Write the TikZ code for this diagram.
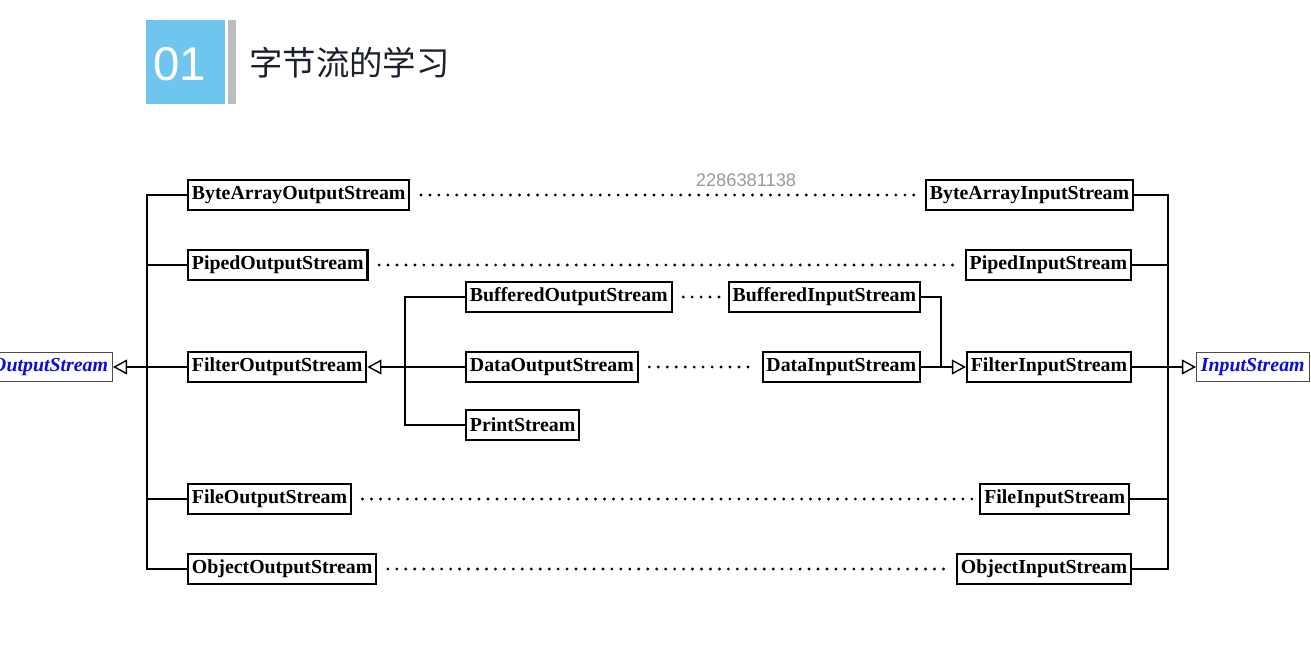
\documentclass[tikz,border=0pt]{standalone}
\usepackage{fontspec}
\setmainfont{Liberation Serif}
\newfontfamily\cjk{Noto Sans CJK SC}
\newfontfamily\sansf{Liberation Sans}
\usetikzlibrary{arrows.meta}
\definecolor{tagblue}{HTML}{6EC6EE}
\definecolor{tagbar}{HTML}{BDBDBD}
\definecolor{titleink}{HTML}{1C1F2E}
\definecolor{absblue}{RGB}{10,10,225}
\begin{document}
\begin{tikzpicture}[x=0.02cm,y=-0.02cm,line join=miter,
	cls/.style={draw,line width=1.2pt,fill=white,minimum height=17pt,inner xsep=2.2pt,inner ysep=0pt,
		font=\bfseries\fontsize{11.3}{13}\selectfont},
	abs/.style={draw=black!70,line width=.6pt,fill=white,minimum height=17pt,inner xsep=2.5pt,inner ysep=0pt,
		text=absblue,font=\bfseries\itshape\fontsize{11.3}{13}\selectfont},
	conn/.style={line width=1.2pt},
	inh/.style={line width=1.2pt,-{Triangle[open,length=8pt,width=8.5pt,line width=.8pt]}},
	pair/.style={line width=1.8pt,line cap=round,dash pattern=on 0pt off 5.1pt}]
	\useasboundingbox (0,0) rectangle (1311,655);
	\clip (0,0) rectangle (1311,655);
	% title
	\fill[tagblue] (146,20) rectangle (225,104);
	\fill[tagbar] (228,20) rectangle (236,104);
	\node[text=white,font=\sansf\fontsize{27}{30}\selectfont] (num) at (180,64) {01};
	\node[anchor=west,text=titleink,font=\cjk\fontsize{19}{22}\selectfont,inner sep=0pt] (title) at (249,63) {字节流的学习};
	\node[text=black!40,font=\sansf\fontsize{10.4}{12}\selectfont] (mark) at (746,180) {2286381138};
	% output side
	\node[abs,anchor=east] (os) at (113,367) {OutputStream};
	\node[cls,anchor=west] (bao) at (187,195) {ByteArrayOutputStream};
	\node[cls,anchor=west] (pio) at (187,265) {PipedOutputStream};
	\node[cls,anchor=west] (fio) at (187,367) {FilterOutputStream};
	\node[cls,anchor=west] (flo) at (187,499) {FileOutputStream};
	\node[cls,anchor=west] (obo) at (187,569) {ObjectOutputStream};
	\node[cls,anchor=west] (bfo) at (465,297) {BufferedOutputStream};
	\node[cls,anchor=west] (dao) at (465,367) {DataOutputStream};
	\node[cls,anchor=west] (pso) at (465,425) {PrintStream};
	% input side
	\node[abs,anchor=west] (is) at (1196,367) {InputStream};
	\node[cls,anchor=east] (bai) at (1134,195) {ByteArrayInputStream};
	\node[cls,anchor=east] (pii) at (1132,265) {PipedInputStream};
	\node[cls,anchor=east] (fii) at (1132,367) {FilterInputStream};
	\node[cls,anchor=east] (fli) at (1130,499) {FileInputStream};
	\node[cls,anchor=east] (obi) at (1132,569) {ObjectInputStream};
	\node[cls,anchor=east] (bfi) at (921,297) {BufferedInputStream};
	\node[cls,anchor=east] (dai) at (921,367) {DataInputStream};
	\coordinate (lbus) at (147,367);
	\coordinate (ibus) at (405,367);
	\coordinate (rbus) at (1168,367);
	\coordinate (rjoin) at (941,367);
	% hierarchy
	\draw[conn] (bao.west) -| (lbus) |- (obo.west);
	\draw[conn] (pio.west) -- (pio.west -| lbus);
	\draw[conn] (flo.west) -- (flo.west -| lbus);
	\draw[inh] (fio.west) -- (os.east);
	\draw[conn] (bfo.west) -| (ibus) |- (pso.west);
	\draw[inh] (dao.west) -- (fio.east);
	\draw[conn] (bai.east) -| (rbus) |- (obi.east);
	\draw[conn] (pii.east) -- (pii.east -| rbus);
	\draw[conn] (fli.east) -- (fli.east -| rbus);
	\draw[inh] (fii.east) -- (is.west);
	\draw[conn] (bfi.east) -| (rjoin);
	\draw[inh] (dai.east) -- (fii.west);
	% pairs
	\draw[pair] ([xshift=6pt]bao.east) -- ([xshift=-3pt]bai.west);
	\draw[pair] ([xshift=6pt]pio.east) -- ([xshift=-3pt]pii.west);
	\draw[pair] ([xshift=6pt]bfo.east) -- ([xshift=-3pt]bfi.west);
	\draw[pair] ([xshift=6pt]dao.east) -- ([xshift=-3pt]dai.west);
	\draw[pair] ([xshift=6pt]flo.east) -- ([xshift=-3pt]fli.west);
	\draw[pair] ([xshift=6pt]obo.east) -- ([xshift=-3pt]obi.west);
\end{tikzpicture}
\end{document}
